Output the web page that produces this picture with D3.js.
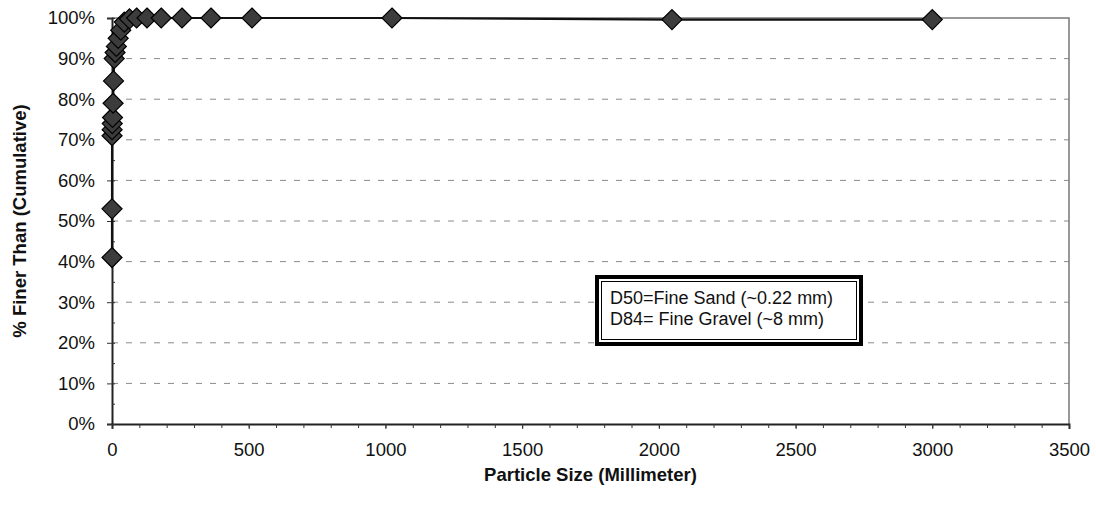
<!DOCTYPE html>
<html>
<head>
<meta charset="utf-8">
<script src="https://cdn.jsdelivr.net/npm/d3@7"></script>
<style>
  body { margin: 0; background: #fff; }
  text { font-family: "Liberation Sans", Arial, sans-serif; }
</style>
</head>
<body>
<script>
// particle size classes (mm) and cumulative % finer
let sizes = [0.0625, 0.125, 0.25, 0.5, 1, 2, 4, 5.6, 8, 11.3, 16, 22.6, 32, 45, 64, 90, 128, 180, 256, 362, 512, 1024, 2048, 3000];
let finer = [41, 53, 71, 72.5, 74, 75.5, 79, 84.5, 90, 91.5, 93, 95, 97, 99, 99.8, 100, 100, 100, 100, 100, 100, 100, 99.6, 99.6];
let xTicks = [0, 500, 1000, 1500, 2000, 2500, 3000, 3500];
let yTicks = [0, 10, 20, 30, 40, 50, 60, 70, 80, 90, 100];
let legendLines = ["D50=Fine Sand (~0.22 mm)", "D84= Fine Gravel (~8 mm)"];

let canvasW = 1096;
let canvasH = 505;
let plotL = 112, plotR = 1069, plotT = 18, plotB = 424;

let svg = d3.select("body").append("svg")
  .attr("width", canvasW)
  .attr("height", canvasH);

let x = d3.scaleLinear().domain([0, 3500]).range([plotL, plotR]);
let y = d3.scaleLinear().domain([0, 100]).range([plotB, plotT]);

// dashed gridlines
svg.selectAll()
  .data(yTicks.filter(t => t > 0 && t < 100))
  .enter()
    .append("line")
    .attr("x1", plotL).attr("x2", plotR)
    .attr("y1", d => y(d)).attr("y2", d => y(d))
    .attr("stroke", "#8a8a8a")
    .attr("stroke-width", 1)
    .attr("stroke-dasharray", "6,8");

// plot border (top, right)
svg.append("path")
  .attr("d", `M${plotL},${plotT}H${plotR}V${plotB}`)
  .attr("fill", "none")
  .attr("stroke", "#777")
  .attr("stroke-width", 1.5);

// x axis
svg.append("g")
  .attr("transform", `translate(0,${plotB})`)
  .call(d3.axisBottom(x).tickValues(xTicks).tickSize(5).tickPadding(14).tickFormat(d3.format("d")));
svg.append("g")
  .attr("transform", `translate(0,${plotB})`)
  .call(d3.axisBottom(x).tickValues(d3.range(0, 3501, 100)).tickSize(4).tickFormat(""))
  .call(g => g.select(".domain").remove());

// y axis
svg.append("g")
  .attr("transform", `translate(${plotL},0)`)
  .call(d3.axisLeft(y).tickValues(yTicks).tickSize(5).tickPadding(12).tickFormat(d => d + "%"));
svg.append("g")
  .attr("transform", `translate(${plotL},0)`)
  .call(d3.axisLeft(y).tickValues(d3.range(0, 101, 5)).tickSize(4).tickFormat(""))
  .call(g => g.select(".domain").remove())
  .selectAll("line").attr("x2", 3);

svg.selectAll(".domain").attr("stroke", "#222").attr("stroke-width", 2);
svg.selectAll(".tick line").attr("stroke", "#333");
svg.selectAll(".tick text")
  .attr("font-size", "18.5px")
  .attr("fill", "#111");

// data line
let pts = sizes.map((s, i) => [s, finer[i]]);
svg.append("path")
  .datum(pts)
  .attr("fill", "none")
  .attr("stroke", "#111")
  .attr("stroke-width", 2.2)
  .attr("d", d3.line().x(d => x(d[0])).y(d => y(d[1])));

// diamond markers
svg.selectAll()
  .data(pts)
  .enter()
    .append("path")
    .attr("d", "M0,-10L10,0L0,10L-10,0Z")
    .attr("transform", d => `translate(${x(d[0])},${y(d[1])})`)
    .attr("fill", "#3c3c3c")
    .attr("stroke", "#000")
    .attr("stroke-width", 1.2);

// legend box with double border
svg.append("rect")
  .attr("x", 597).attr("y", 277)
  .attr("width", 264).attr("height", 67)
  .attr("fill", "#fff")
  .attr("stroke", "#000")
  .attr("stroke-width", 4);
svg.append("rect")
  .attr("x", 601.5).attr("y", 281.5)
  .attr("width", 255).attr("height", 58)
  .attr("fill", "none")
  .attr("stroke", "#000")
  .attr("stroke-width", 1);

svg.selectAll()
  .data(legendLines)
  .enter()
    .append("text")
    .attr("x", 610)
    .attr("y", (d, i) => 304 + i * 21)
    .attr("font-size", "18px")
    .attr("fill", "#111")
    .text(d => d);

// axis titles
svg.append("text")
  .attr("x", (plotL + plotR) / 2)
  .attr("y", 481)
  .attr("text-anchor", "middle")
  .attr("font-size", "18.5px")
  .attr("font-weight", "bold")
  .attr("fill", "#111")
  .text("Particle Size (Millimeter)");

svg.append("text")
  .attr("text-anchor", "middle")
  .attr("font-size", "18.5px")
  .attr("font-weight", "bold")
  .attr("fill", "#111")
  .attr("transform", `translate(26,${(plotT + plotB) / 2}) rotate(-90)`)
  .text("% Finer Than (Cumulative)");
</script>
</body>
</html>
